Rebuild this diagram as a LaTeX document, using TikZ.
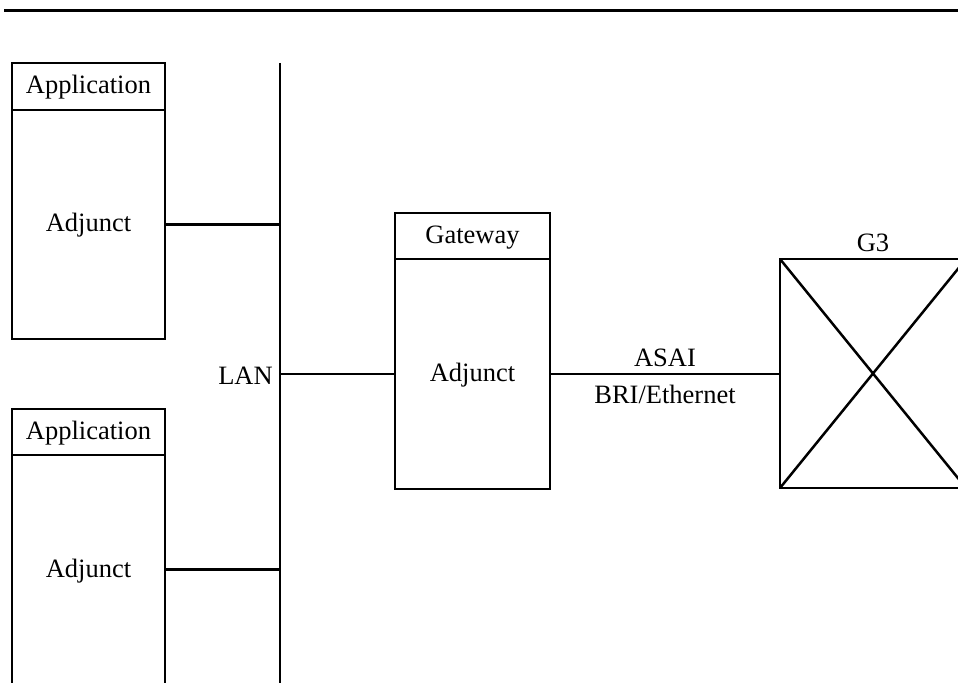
\documentclass[tikz,border=0pt]{standalone}
\usepackage{fontspec}
\setmainfont{Liberation Serif}
\usetikzlibrary{positioning}

\tikzset{
  anybox/.style={draw,inner sep=0pt,outer sep=0pt,text height=0.95em,text depth=0.2em},
  hdrbox/.style={anybox,minimum width=76.5pt,minimum height=23pt},
  bodybox/.style={anybox,minimum width=76.5pt,minimum height=114.5pt},
  linklabel/.style={inner sep=4pt}
}

\begin{document}
\begin{tikzpicture}[x=0.5pt,y=-0.5pt,line width=1.25pt,font=\fontsize{13.25}{16}\selectfont]
  \useasboundingbox (0,0) rectangle (958,683);
  \clip (0,0) rectangle (958,683);
  % ruler line on top
  \coordinate (rulel) at (4,11);
  \coordinate (ruler) at (962,11);
  \draw[line width=1.5pt] (rulel) -- (ruler);
  % the LAN bus
  \coordinate (lantop) at (280,63);
  \coordinate (lanbot) at (280,690);
  \draw (lantop) -- (lanbot);
  \node[anchor=east,inner sep=0pt] (lan) at (274,376) {LAN};
  % application adjuncts
  \node[hdrbox,minimum height=23.5pt] (app1) at (88.5,86.5) {Application};
  \node[bodybox,below=0pt of app1] (adj1) {Adjunct};
  \node[hdrbox] (app2) at (88.5,432) {Application};
  \node[bodybox,below=0pt of app2] (adj2) {Adjunct};
  \draw (adj1.east) -- (adj1.east -| lantop);
  \draw (adj2.east) -- (adj2.east -| lantop);
  % gateway
  \node[hdrbox,minimum width=77.5pt] (gw) at (472.5,236) {Gateway};
  \node[bodybox,minimum width=77.5pt,minimum height=115pt,below=0pt of gw] (gwadj) {Adjunct};
  \draw (gwadj.west -| lantop) -- (gwadj.west);
  % switch
  \node[draw,minimum width=93pt,minimum height=114.5pt,inner sep=0pt,outer sep=0pt] (g3) at (873,373.5) {};
  \node[above=1pt of g3,inner sep=2pt] (g3lbl) {G3};
  \draw (g3.north west) -- (g3.south east);
  \draw (g3.south west) -- (g3.north east);
  \draw (gwadj.east) -- (gwadj.east -| g3.west)
    node[midway,above,linklabel,yshift=-1pt] (asai) {ASAI}
    node[midway,below,linklabel,yshift=-1pt] (bri) {BRI/Ethernet};
\end{tikzpicture}
\end{document}
